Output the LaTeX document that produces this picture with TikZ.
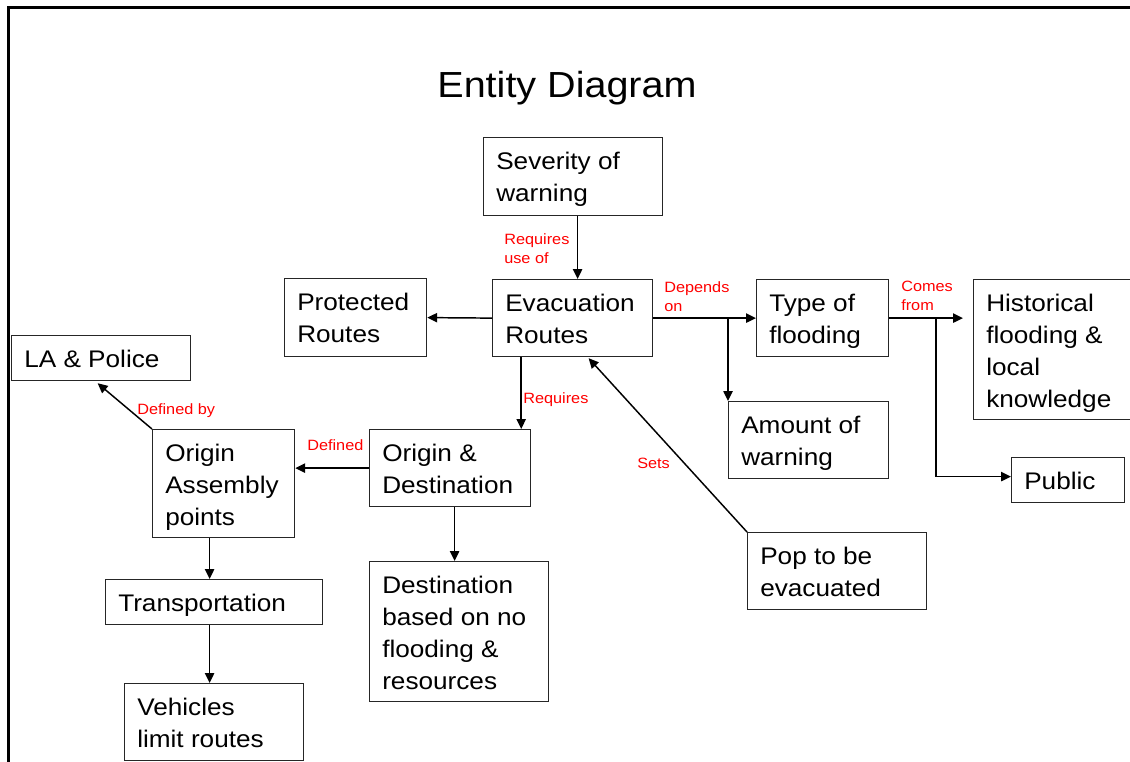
\documentclass[tikz,border=0pt]{standalone}
\usepackage{fontspec}
\setmainfont{Liberation Sans}[FakeStretch=1.09]
\usetikzlibrary{calc,arrows.meta}

% entity box: name, left, top, right, bottom, text
\newcommand\entbox[6]{%
  \node[entity, anchor=north west,
        minimum width={(#4-#2)*0.75pt}, minimum height={(#5-#3)*0.75pt}] (#1) at (#2,#3) {};
  \node[entitytext] (#1-text) at ($(#1.north west)+(13,15)$) {#6};}

\tikzset{
  entity/.style={draw=black!85, line width=0.9pt, inner sep=0pt},
  entitytext/.style={anchor=north west, inner sep=0pt, align=left,
                     font=\fontsize{18}{24}\selectfont},
  rel/.style={text=red, anchor=north west, inner sep=0pt, align=left,
              font=\fontsize{11.2}{14.25}\selectfont},
  arr/.style={-{Triangle[length=7.5pt,width=7pt]}, line width=1.1pt},
}

\begin{document}
\begin{tikzpicture}[x=0.75pt, y=-0.75pt]
\useasboundingbox (0,0) rectangle (1130,761);
\clip (0,0) rectangle (1130,761);

% slide frame
\draw[line width=2.25pt] (8.5,775) -- (8.5,7.5) -- (1145,7.5);

% title
\node[font=\fontsize{27.2}{32}\selectfont, anchor=base, inner sep=0pt] (title) at (567,97) {Entity Diagram};

% entities
\entbox{sev}{483}{137}{662}{215}{Severity of\\warning}
\entbox{evac}{492}{279}{652}{356}{Evacuation\\Routes}
\entbox{prot}{284}{278}{426}{356}{Protected\\Routes}
\entbox{type}{756}{279}{888}{356}{Type of\\flooding}
\entbox{hist}{973}{279}{1136}{419}{Historical\\flooding \&\\local\\knowledge}
\entbox{amt}{728}{401}{888}{478}{Amount of\\warning}
\entbox{pub}{1011}{457}{1124}{502}{Public}
\entbox{la}{11}{335}{190}{380}{LA \& Police}
\entbox{oa}{152}{429}{294}{537}{Origin\\Assembly\\points}
\entbox{od}{369}{429}{530}{506}{Origin \&\\Destination}
\entbox{dest}{369}{561}{548}{701}{Destination\\based on no\\flooding \&\\resources}
\entbox{pop}{747}{532}{926}{609}{Pop to be\\evacuated}
\entbox{trans}{105}{579}{322}{624}{Transportation}
\entbox{veh}{124}{683}{303}{760}{Vehicles\\limit routes}

% relationships
\coordinate (sv) at ($(evac.north)+(5,0)$);
\draw[arr] (sev.south -| sv) -- (sv);
\draw[arr] (evac.west) -- (prot.east);
\draw[arr] (evac.east) -- (type.west);
\draw[arr] (evac.east -| amt.north west) -- (amt.north west);
\draw[arr, shorten >=7.5pt] (type.east) -- (type.east -| hist.west);
\coordinate (cf) at ($(type.east)+(47,0)$);
\coordinate (pb) at ($(pub.west)+(0,-3.5)$);
\draw[arr] (cf) |- (pb);
\coordinate (rq) at ($(od.north east)+(-10,0)$);
\draw[arr] (evac.south -| rq) -- (rq);
\draw[arr] (od.west) -- (od.west -| oa.east);
\draw[arr] (oa.north west) -- ($(la.south)+(-3.5,2)$);
\coordinate (dd) at ($(dest.north)+(-4.5,0)$);
\draw[arr] (od.south -| dd) -- (dd);
\draw[arr] (pop.north west) -- ($(evac.south)+(16,1)$);
\coordinate (tt) at ($(trans.north)+(-4.5,0)$);
\draw[arr] (oa.south -| tt) -- (tt);
\coordinate (vv) at ($(veh.north)+(-4.5,0)$);
\draw[arr] (trans.south -| vv) -- (vv);

% relationship labels
\node[rel] (l-req1) at (504,233) {Requires\\use of};
\node[rel] (l-dep) at (664,281) {Depends\\on};
\node[rel] (l-comes) at (901,281) {Comes\\from};
\node[rel] (l-defby) at (137,403) {Defined by};
\node[rel] (l-def) at (307,439) {Defined};
\node[rel] (l-req2) at (523,392) {Requires};
\node[rel] (l-sets) at (637,458) {Sets};
\end{tikzpicture}
\end{document}
